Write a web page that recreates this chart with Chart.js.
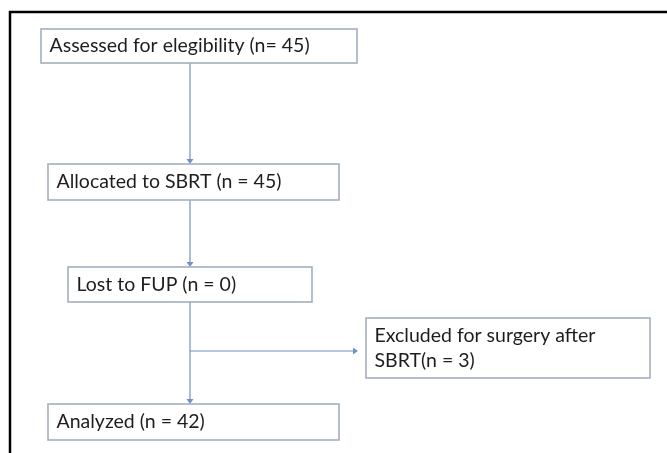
<!DOCTYPE html>
<html>
<head>
<meta charset="utf-8">
<script src="https://cdn.jsdelivr.net/npm/chart.js@4.4.0/dist/chart.umd.min.js"></script>
<style>
  html, body { margin: 0; padding: 0; background: #fff; }
  #wrap { width: 667px; height: 453px; }
</style>
</head>
<body>
<div id="wrap"><canvas id="flowChart"></canvas></div>
<script>
// flow stages and patient counts
const stages = ['Assessed for elegibility', 'Allocated to SBRT', 'Lost to FUP', 'Excluded for surgery after SBRT', 'Analyzed'];
const counts = [45, 45, 0, 3, 42];
const labelLines = [
    ['Assessed for elegibility (n= ' + counts[0] + ')'],
    ['Allocated to SBRT (n = ' + counts[1] + ')'],
    ['Lost to FUP (n = ' + counts[2] + ')'],
    ['Excluded for surgery after', 'SBRT(n = ' + counts[3] + ')'],
    ['Analyzed (n = ' + counts[4] + ')']
];

// layout of the diagram, in page units (x right, y down)
const layout = {
    boxes: [
        { x0: 41, y0: 29, x1: 357, y1: 63 },
        { x0: 48, y0: 164, x1: 339, y1: 200 },
        { x0: 68, y0: 267, x1: 312, y1: 302 },
        { x0: 366, y0: 318, x1: 650, y1: 378 },
        { x0: 48, y0: 404, x1: 339, y1: 440 }
    ],
    spineX: 190,
    branchY: 351,
    branchTip: 358
};

const flowPlugin = {
    id: 'flow',
    afterDraw(chart) {
        const ctx = chart.ctx;
        const sx = chart.scales.x, sy = chart.scales.y;
        const px = v => sx.getPixelForValue(v);
        const py = v => sy.getPixelForValue(v);

        ctx.save();

        // outer frame
        ctx.strokeStyle = '#000';
        ctx.lineWidth = 2.5;
        ctx.beginPath();
        ctx.moveTo(px(10), py(453));
        ctx.lineTo(px(10), py(12));
        ctx.lineTo(px(667), py(12));
        ctx.stroke();

        // connectors
        const b = layout.boxes;
        const lineCol = '#7190c4';
        ctx.strokeStyle = lineCol;
        ctx.fillStyle = lineCol;
        ctx.lineWidth = 1.2;

        function arrowDown(x, yA, yB) {
            ctx.beginPath();
            ctx.moveTo(px(x), py(yA));
            ctx.lineTo(px(x), py(yB) - 4);
            ctx.stroke();
            ctx.beginPath();
            ctx.moveTo(px(x) - 3.5, py(yB) - 5);
            ctx.lineTo(px(x) + 3.5, py(yB) - 5);
            ctx.lineTo(px(x), py(yB));
            ctx.closePath();
            ctx.fill();
        }
        arrowDown(layout.spineX, b[0].y1, b[1].y0);
        arrowDown(layout.spineX, b[1].y1, b[2].y0);
        arrowDown(layout.spineX, b[2].y1, b[4].y0);

        // side branch
        ctx.beginPath();
        ctx.moveTo(px(layout.spineX), py(layout.branchY));
        ctx.lineTo(px(layout.branchTip) - 4, py(layout.branchY));
        ctx.stroke();
        ctx.beginPath();
        ctx.moveTo(px(layout.branchTip) - 5, py(layout.branchY) - 3.5);
        ctx.lineTo(px(layout.branchTip) - 5, py(layout.branchY) + 3.5);
        ctx.lineTo(px(layout.branchTip), py(layout.branchY));
        ctx.closePath();
        ctx.fill();

        // boxes with text
        ctx.font = '19.5px Lato, "Open Sans", sans-serif';
        ctx.textBaseline = 'middle';
        ctx.textAlign = 'left';
        b.forEach((box, i) => {
            const x0 = px(box.x0), y0 = py(box.y0);
            const w = px(box.x1) - x0, h = py(box.y1) - y0;
            ctx.fillStyle = '#fff';
            ctx.fillRect(x0, y0, w, h);
            ctx.strokeStyle = '#a4aec0';
            ctx.lineWidth = 1.6;
            ctx.strokeRect(x0, y0, w, h);

            ctx.fillStyle = '#1e1e1e';
            const lines = labelLines[i];
            const lh = 25;
            const mid = y0 + h / 2;
            lines.forEach((t, k) => {
                ctx.fillText(t, x0 + 8.5, mid + (k - (lines.length - 1) / 2) * lh);
            });
        });

        ctx.restore();
    }
};

new Chart(document.getElementById('flowChart'), {
    type: 'scatter',
    data: {
        labels: stages,
        datasets: [{ data: [], pointRadius: 0 }]
    },
    options: {
        responsive: true,
        maintainAspectRatio: false,
        animation: false,
        events: [],
        layout: { padding: 0 },
        plugins: { legend: { display: false }, tooltip: { enabled: false } },
        scales: {
            x: { type: 'linear', min: 0, max: 667, display: false },
            y: { type: 'linear', min: 0, max: 453, reverse: true, display: false }
        }
    },
    plugins: [flowPlugin]
});
</script>
</body>
</html>
